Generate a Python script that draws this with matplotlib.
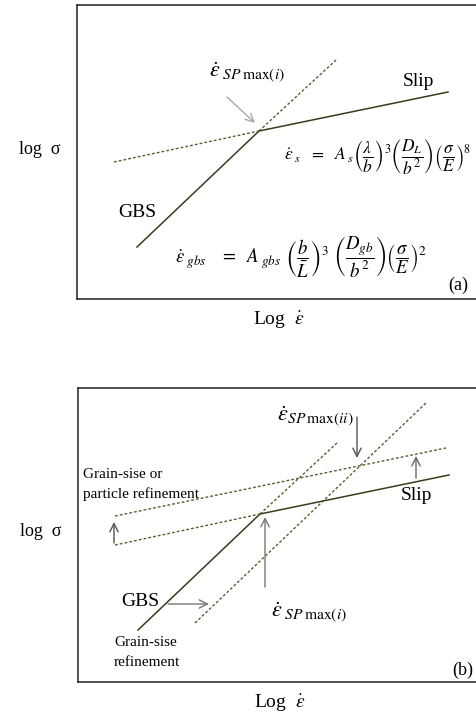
import matplotlib.pyplot as plt

plt.rcParams['font.family'] = ['Liberation Serif', 'DejaVu Serif']
plt.rcParams['mathtext.fontset'] = 'stix'

SOLID = '#3b3b1c'
DOTTED = '#5c5c2e'

# schematic deformation map, log strain rate (x) vs log stress (y), arbitrary units
gbs_x, gbs_y = [60, 182], [52, 168]
gbs_ext_x, gbs_ext_y = [182, 259], [168, 239]
slip_x, slip_y = [182, 371], [168, 207]
slip_ext_x, slip_ext_y = [37, 182], [137, 168]

# shifted mechanisms after refinement (panel b)
slip_up_x, slip_up_y = [37, 368], [166, 234]
gbs_shift_x, gbs_shift_y = [117, 348], [59, 279]

W, H = 403, 294


def setup(ax):
    ax.set_xlim(0, W)
    ax.set_ylim(0, H)
    ax.set_xticks([])
    ax.set_yticks([])
    for s in ax.spines.values():
        s.set_color('#222222')
        s.set_linewidth(1.1)
    ax.text(-37, 150, 'log  σ', fontsize=13, ha='center', va='center')
    ax.text(202, -21, r'Log  $\dot{\varepsilon}$', fontsize=14, ha='center', va='center')


def base_lines(ax):
    ax.plot(gbs_x, gbs_y, color=SOLID, lw=1.1)
    ax.plot(slip_x, slip_y, color=SOLID, lw=1.1)
    ax.plot(gbs_ext_x, gbs_ext_y, color=DOTTED, lw=1, ls=(0, (2, 1.5)))
    ax.plot(slip_ext_x, slip_ext_y, color=DOTTED, lw=1, ls=(0, (2, 1.5)))


def arrow(ax, p0, p1, color):
    ax.annotate('', xy=p1, xytext=p0,
                arrowprops=dict(arrowstyle='->,head_length=0.6,head_width=0.3',
                                color=color, lw=1, shrinkA=0, shrinkB=0))


fig = plt.figure(figsize=(4.76, 7.16), dpi=100)

# (a)
ax = fig.add_axes([77 / 476, 1 - 299 / 716, W / 476, H / 716])
setup(ax)
base_lines(ax)
arrow(ax, (150, 202), (178, 176), '#a8a8a8')
ax.text(132, 226, r'$\dot{\varepsilon}_{\ SP\,\max(i)}$', fontsize=16, va='center')
ax.text(326, 218, 'Slip', fontsize=14, va='center')
ax.text(41, 86, 'GBS', fontsize=14, va='center')
ax.text(207, 142, r'$\dot{\varepsilon}_{\ s}\ \ =\ \ A_{\ s}\left(\dfrac{\lambda}{b}\right)^{3}'
        r'\left(\dfrac{D_L}{b^2}\right)\left(\dfrac{\sigma}{E}\right)^{8}$',
        fontsize=12.5, va='center')
ax.text(98, 42, r'$\dot{\varepsilon}_{\ gbs}\ \ \ =\ \ A_{\ gbs}\ \left(\dfrac{b}{\bar{L}}\right)^{3}\ '
        r'\left(\dfrac{D_{gb}}{b^2}\right)\left(\dfrac{\sigma}{E}\right)^{2}$',
        fontsize=13.5, va='center')
ax.text(371, 14, '(a)', fontsize=13, va='center')

# (b)
ax = fig.add_axes([78 / 476, 1 - 682 / 716, W / 476, H / 716])
setup(ax)
base_lines(ax)
ax.plot(slip_up_x, slip_up_y, color=DOTTED, lw=1, ls=(0, (2, 1.5)))
ax.plot(gbs_shift_x, gbs_shift_y, color=DOTTED, lw=1, ls=(0, (2, 1.5)))
arrow(ax, (36, 139), (36, 160), '#555555')
arrow(ax, (338, 204), (338, 226), '#666666')
arrow(ax, (187, 95), (187, 165), '#777777')
arrow(ax, (279, 265), (279, 224), '#555555')
arrow(ax, (90, 78), (131, 78), '#777777')
ax.text(5, 207, 'Grain-sise or', fontsize=11, va='center')
ax.text(5, 188, 'particle refinement', fontsize=11, va='center')
ax.text(323, 186, 'Slip', fontsize=14, va='center')
ax.text(43, 81, 'GBS', fontsize=14, va='center')
ax.text(36, 39, 'Grain-sise', fontsize=11, va='center')
ax.text(36, 20, 'refinement', fontsize=11, va='center')
ax.text(199, 265, r'$\dot{\varepsilon}_{SP\,\max(ii)}$', fontsize=16, va='center')
ax.text(193, 69, r'$\dot{\varepsilon}_{\ SP\,\max(i)}$', fontsize=16, va='center')
ax.text(374, 12, '(b)', fontsize=13, va='center')

fig.savefig('out.png', dpi=100)
